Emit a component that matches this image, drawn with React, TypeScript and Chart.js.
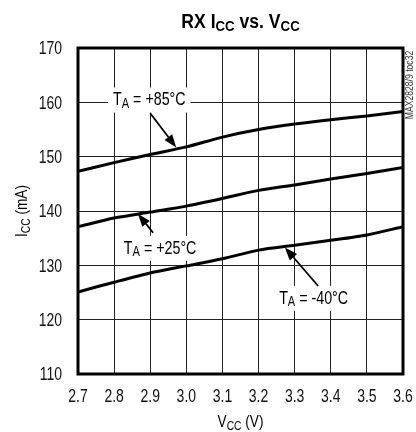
import React, { useEffect, useRef } from "react";
import { Chart, registerables } from "chart.js";

Chart.register(...registerables);

const vcc = [2.7, 2.8, 2.9, 3.0, 3.1, 3.2, 3.3, 3.4, 3.5, 3.6];
const icc85 = [147.3, 148.9, 150.4, 151.8, 153.6, 155.0, 156.0, 156.8, 157.5, 158.3];
const icc25 = [137.1, 138.7, 139.8, 140.9, 142.3, 143.8, 144.8, 145.9, 146.9, 148.0];
const iccM40 = [125.1, 126.9, 128.6, 129.9, 131.2, 132.8, 133.7, 134.6, 135.6, 137.1];
const yTicks = [110, 120, 130, 140, 150, 160, 170];

const FONT = '"Liberation Sans", Arial, sans-serif';

type Part = { t: string; sub?: boolean };
type Style = { size: number; bold?: boolean; sx: number; subRatio: number; subOff: number };

const TICK: Style = { size: 17.5, sx: 0.8, subRatio: 0.75, subOff: 0.2 };
const LABEL: Style = { size: 19, sx: 0.75, subRatio: 0.78, subOff: 0.15 };
const TITLE: Style = { size: 20, bold: true, sx: 0.88, subRatio: 0.75, subOff: 0.16 };
const AXIS: Style = { size: 17, sx: 0.8, subRatio: 0.76, subOff: 0.18 };
const NOTE: Style = { size: 10.5, sx: 0.82, subRatio: 1, subOff: 0 };

// annotation labels (left edge, vertical centre) in data units
const labels: { parts: Part[]; x: number; y: number }[] = [
  { parts: [{ t: "T" }, { t: "A", sub: true }, { t: " = +85°C" }], x: 2.797, y: 160.7 },
  { parts: [{ t: "T" }, { t: "A", sub: true }, { t: " = +25°C" }], x: 2.827, y: 133.4 },
  { parts: [{ t: "T" }, { t: "A", sub: true }, { t: " = -40°C" }], x: 3.257, y: 124.2 },
];
// arrows: tail -> head in data units
const arrows = [
  { x1: 2.9, y1: 158.0, x2: 2.972, y2: 151.7 },
  { x1: 2.908, y1: 136.0, x2: 2.866, y2: 139.5 },
  { x1: 3.365, y1: 126.2, x2: 3.273, y2: 133.3 },
];

function fontOf(st: Style, sub?: boolean) {
  const s = sub ? st.size * st.subRatio : st.size;
  return `${st.bold ? "bold " : ""}${s}px ${FONT}`;
}

function measureRich(ctx: CanvasRenderingContext2D, parts: Part[], st: Style) {
  let w = 0;
  ctx.save();
  for (const p of parts) {
    ctx.font = fontOf(st, p.sub);
    w += ctx.measureText(p.t).width;
  }
  ctx.restore();
  return w * st.sx;
}

function drawRich(
  ctx: CanvasRenderingContext2D,
  parts: Part[],
  x: number,
  y: number,
  st: Style,
  align: "left" | "center" | "right"
) {
  const w = measureRich(ctx, parts, st);
  const x0 = align === "center" ? x - w / 2 : align === "right" ? x - w : x;
  ctx.save();
  ctx.translate(x0, y);
  ctx.scale(st.sx, 1);
  ctx.textBaseline = "alphabetic";
  ctx.textAlign = "left";
  let cx = 0;
  for (const p of parts) {
    ctx.font = fontOf(st, p.sub);
    ctx.fillText(p.t, cx, p.sub ? st.size * st.subOff : 0);
    cx += ctx.measureText(p.t).width;
  }
  ctx.restore();
  return w;
}

const decorPlugin = {
  id: "decor",
  beforeDatasetsDraw(chart: any) {
    const { ctx, chartArea, scales } = chart;
    const xs = scales.x;
    const ys = scales.y;
    ctx.save();
    for (const l of labels) {
      const px = xs.getPixelForValue(l.x);
      const py = ys.getPixelForValue(l.y);
      const w = measureRich(ctx, l.parts, LABEL);
      ctx.fillStyle = "#ffffff";
      ctx.fillRect(px - 5, py - 11, w + 10, 25);
    }
    ctx.strokeStyle = "#000";
    ctx.lineWidth = 3;
    ctx.strokeRect(chartArea.left, chartArea.top, chartArea.right - chartArea.left, chartArea.bottom - chartArea.top);
    ctx.restore();
  },
  afterDraw(chart: any) {
    const { ctx, chartArea, scales } = chart;
    const xs = scales.x;
    const ys = scales.y;
    const cxArea = (chartArea.left + chartArea.right) / 2;
    ctx.save();
    ctx.fillStyle = "#111";
    // tick labels
    for (const v of vcc) {
      drawRich(ctx, [{ t: v.toFixed(1) }], xs.getPixelForValue(v), chartArea.bottom + 28, TICK, "center");
    }
    for (const v of yTicks) {
      drawRich(ctx, [{ t: String(v) }], chartArea.left - 16, ys.getPixelForValue(v) + 6.3, TICK, "right");
    }
    ctx.fillStyle = "#000";
    // title
    drawRich(ctx, [{ t: "RX I" }, { t: "CC", sub: true }, { t: " vs. V" }, { t: "CC", sub: true }], cxArea, 28, TITLE, "center");
    // x title
    drawRich(ctx, [{ t: "V" }, { t: "CC", sub: true }, { t: " (V)" }], cxArea, 427, AXIS, "center");
    // y title
    ctx.save();
    ctx.translate(27, (chartArea.top + chartArea.bottom) / 2);
    ctx.rotate(-Math.PI / 2);
    drawRich(ctx, [{ t: "I" }, { t: "CC", sub: true }, { t: " (mA)" }], 0, 0, AXIS, "center");
    ctx.restore();
    // side note
    ctx.save();
    ctx.translate(413, 85);
    ctx.rotate(-Math.PI / 2);
    ctx.fillStyle = "#333";
    drawRich(ctx, [{ t: "MAX2828/9 toc32" }], 0, 0, NOTE, "center");
    ctx.restore();
    // labels
    ctx.fillStyle = "#000";
    for (const l of labels) {
      const px = xs.getPixelForValue(l.x);
      const py = ys.getPixelForValue(l.y);
      drawRich(ctx, l.parts, px, py + 6.7, LABEL, "left");
    }
    // arrows
    ctx.strokeStyle = "#000";
    ctx.fillStyle = "#000";
    for (const a of arrows) {
      const x1 = xs.getPixelForValue(a.x1);
      const y1 = ys.getPixelForValue(a.y1);
      const x2 = xs.getPixelForValue(a.x2);
      const y2 = ys.getPixelForValue(a.y2);
      const ang = Math.atan2(y2 - y1, x2 - x1);
      const hl = 13;
      const hw = 4.8;
      const bx = x2 - hl * Math.cos(ang);
      const by = y2 - hl * Math.sin(ang);
      ctx.lineWidth = 1.8;
      ctx.beginPath();
      ctx.moveTo(x1, y1);
      ctx.lineTo(bx, by);
      ctx.stroke();
      ctx.beginPath();
      ctx.moveTo(x2, y2);
      ctx.lineTo(bx + hw * Math.sin(ang), by - hw * Math.cos(ang));
      ctx.lineTo(bx - hw * Math.sin(ang), by + hw * Math.cos(ang));
      ctx.closePath();
      ctx.fill();
    }
    ctx.restore();
  },
};

export default function App() {
  const ref = useRef<HTMLCanvasElement | null>(null);
  useEffect(() => {
    if (!ref.current) return;
    const mk = (arr: number[]) => vcc.map((v, i) => ({ x: v, y: arr[i] }));
    const ds = (arr: number[]) => ({
      data: mk(arr),
      borderColor: "#000",
      borderWidth: 3,
      pointRadius: 0,
      tension: 0.25,
      fill: false,
    });
    const chart = new Chart(ref.current, {
      type: "line",
      data: { datasets: [ds(icc85), ds(icc25), ds(iccM40)] },
      options: {
        animation: false,
        responsive: false,
        maintainAspectRatio: false,
        layout: { padding: { top: 48, right: 13, left: 78, bottom: 58 } },
        plugins: { legend: { display: false }, tooltip: { enabled: false }, title: { display: false } },
        scales: {
          x: {
            type: "linear",
            min: 2.7,
            max: 3.6,
            afterBuildTicks: (s: any) => {
              s.ticks = vcc.map((v) => ({ value: v }));
            },
            ticks: { display: false },
            grid: { color: "#222", lineWidth: 1, drawTicks: false },
            border: { display: false },
          },
          y: {
            type: "linear",
            min: 110,
            max: 170,
            afterBuildTicks: (s: any) => {
              s.ticks = yTicks.map((v) => ({ value: v }));
            },
            ticks: { display: false },
            grid: { color: "#222", lineWidth: 1, drawTicks: false },
            border: { display: false },
          },
        },
      },
      plugins: [decorPlugin],
    });
    return () => chart.destroy();
  }, []);
  return (
    <div style={{ position: "absolute", left: 0, top: 0, width: 416, height: 432 }}>
      <canvas ref={ref} width={416} height={432} style={{ width: 416, height: 432, display: "block" }} />
    </div>
  );
}
